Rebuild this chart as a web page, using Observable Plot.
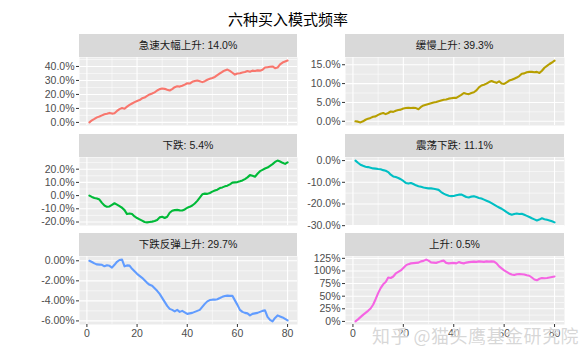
<!DOCTYPE html>
<html><head><meta charset="utf-8">
<script src="https://cdn.jsdelivr.net/npm/d3@7"></script>
<script src="https://cdn.jsdelivr.net/npm/@observablehq/plot@0.6"></script>
<style>
body{margin:0;background:#fff;}
#chart{position:relative;width:583px;height:359px;overflow:hidden;font-family:"Liberation Sans","Noto Sans CJK SC",sans-serif;}
.title{position:absolute;left:0;width:576px;top:8px;line-height:22px;text-align:center;font-size:15px;color:#000;font-family:"Noto Sans CJK SC",sans-serif;}
.strip{position:absolute;height:23px;line-height:23px;background:#D9D9D9;text-align:center;font-size:10.5px;color:#1A1A1A;font-family:"Liberation Sans","Noto Sans CJK SC",sans-serif;}
.panel{position:absolute;}
.wm{position:absolute;left:372px;top:324px;font-size:18px;line-height:22px;color:rgba(175,175,175,0.5);font-family:"Noto Sans CJK SC",sans-serif;text-shadow:0 0 1px #fff,0 0 2px #fff;white-space:nowrap;letter-spacing:0.5px;}
</style></head>
<body>
<div id="chart"></div>
<script>
const titleText = "六种买入模式频率";
const watermark = "知乎 @猫头鹰基金研究院";
const categories = ["急速大幅上升: 14.0%", "缓慢上升: 39.3%", "下跌: 5.4%", "震荡下跌: 11.1%", "下跌反弹上升: 29.7%", "上升: 0.5%"];
const colors = ["#F8766D", "#B79F00", "#00BA38", "#00BFC4", "#619CFF", "#F564E3"];
const days = d3.range(1, 81);

const s1 = [0.000,0.015,0.025,0.036,0.042,0.050,0.058,0.062,0.068,0.063,0.066,0.082,0.095,0.103,0.098,0.113,0.125,0.135,0.145,0.153,
0.160,0.172,0.178,0.190,0.200,0.207,0.215,0.228,0.238,0.242,0.240,0.233,0.228,0.238,0.252,0.258,0.256,0.262,0.270,0.280,
0.278,0.290,0.296,0.300,0.294,0.288,0.295,0.305,0.312,0.318,0.325,0.338,0.350,0.362,0.372,0.378,0.368,0.355,0.342,0.350,
0.352,0.357,0.360,0.368,0.362,0.370,0.368,0.372,0.370,0.376,0.392,0.395,0.398,0.400,0.388,0.392,0.415,0.428,0.435,0.442];
const s2 = [0.000,-0.001,-0.003,0.000,0.004,0.007,0.009,0.012,0.013,0.017,0.020,0.022,0.019,0.022,0.026,0.025,0.028,0.030,0.031,0.034,
0.035,0.036,0.035,0.036,0.035,0.032,0.038,0.042,0.044,0.046,0.048,0.050,0.051,0.053,0.055,0.057,0.058,0.060,0.061,0.062,
0.062,0.066,0.070,0.075,0.073,0.072,0.075,0.077,0.082,0.090,0.095,0.097,0.100,0.104,0.107,0.104,0.102,0.106,0.100,0.099,
0.103,0.108,0.110,0.113,0.116,0.120,0.126,0.127,0.130,0.131,0.131,0.130,0.131,0.128,0.134,0.142,0.147,0.152,0.156,0.161];
const s3 = [0.000,-0.010,-0.018,-0.022,-0.030,-0.055,-0.075,-0.085,-0.082,-0.070,-0.058,-0.068,-0.080,-0.092,-0.110,-0.140,-0.135,-0.140,-0.158,-0.170,
-0.180,-0.190,-0.200,-0.203,-0.200,-0.197,-0.193,-0.185,-0.165,-0.160,-0.170,-0.160,-0.130,-0.115,-0.110,-0.108,-0.112,-0.113,-0.105,-0.092,
-0.085,-0.075,-0.060,-0.040,-0.015,0.010,0.015,0.013,0.020,0.030,0.038,0.045,0.057,0.062,0.070,0.075,0.085,0.098,0.100,0.102,
0.108,0.115,0.125,0.138,0.155,0.150,0.143,0.165,0.185,0.195,0.205,0.212,0.225,0.238,0.255,0.265,0.258,0.248,0.240,0.252];
const s4 = [0.000,-0.010,-0.019,-0.024,-0.028,-0.030,-0.033,-0.036,-0.037,-0.039,-0.040,-0.044,-0.047,-0.053,-0.065,-0.073,-0.076,-0.080,-0.086,-0.094,
-0.103,-0.106,-0.103,-0.108,-0.114,-0.118,-0.121,-0.124,-0.126,-0.128,-0.128,-0.130,-0.132,-0.135,-0.145,-0.152,-0.158,-0.162,-0.164,-0.163,
-0.160,-0.157,-0.156,-0.162,-0.168,-0.170,-0.166,-0.164,-0.168,-0.172,-0.175,-0.180,-0.185,-0.190,-0.196,-0.203,-0.210,-0.216,-0.222,-0.230,
-0.238,-0.245,-0.250,-0.246,-0.244,-0.246,-0.245,-0.250,-0.255,-0.260,-0.266,-0.271,-0.276,-0.272,-0.266,-0.270,-0.273,-0.276,-0.280,-0.285];
const s5 = [0.0000,-0.0012,-0.0026,-0.0036,-0.0038,-0.0040,-0.0055,-0.0045,-0.0050,-0.0068,-0.0040,-0.0010,0.0008,0.0012,-0.0055,-0.0046,-0.0048,-0.0080,-0.0105,-0.0130,
-0.0150,-0.0170,-0.0195,-0.0220,-0.0240,-0.0250,-0.0275,-0.0300,-0.0330,-0.0370,-0.0410,-0.0450,-0.0480,-0.0490,-0.0505,-0.0490,-0.0510,-0.0500,-0.0515,-0.0530,
-0.0525,-0.0520,-0.0510,-0.0500,-0.0490,-0.0460,-0.0430,-0.0405,-0.0392,-0.0388,-0.0388,-0.0383,-0.0372,-0.0360,-0.0352,-0.0348,-0.0350,-0.0350,-0.0395,-0.0440,
-0.0490,-0.0510,-0.0520,-0.0525,-0.0545,-0.0530,-0.0525,-0.0520,-0.0510,-0.0500,-0.0495,-0.0560,-0.0590,-0.0605,-0.0570,-0.0545,-0.0555,-0.0565,-0.0580,-0.0595];
const s6 = [0.000,0.040,0.085,0.130,0.170,0.210,0.255,0.330,0.440,0.560,0.660,0.735,0.780,0.870,0.860,0.890,0.950,0.980,1.010,1.060,
1.110,1.135,1.150,1.155,1.160,1.165,1.190,1.200,1.225,1.205,1.170,1.165,1.160,1.175,1.195,1.205,1.160,1.150,1.155,1.160,
1.150,1.175,1.160,1.150,1.165,1.175,1.180,1.185,1.180,1.190,1.185,1.180,1.190,1.185,1.190,1.185,1.150,1.090,1.050,1.010,
0.980,0.950,0.930,0.920,0.935,0.940,0.935,0.930,0.915,0.905,0.870,0.830,0.815,0.845,0.860,0.855,0.860,0.870,0.880,0.890];
const series = [s1, s2, s3, s4, s5, s6];

const yTicks = [
  [0, 0.1, 0.2, 0.3, 0.4],
  [0, 0.05, 0.10, 0.15],
  [-0.2, -0.1, 0, 0.1, 0.2],
  [-0.3, -0.2, -0.1, 0],
  [-0.06, -0.04, -0.02, 0],
  [0, 0.25, 0.5, 0.75, 1.0, 1.25]
];
const yLabels = [
  ["0.0%", "10.0%", "20.0%", "30.0%", "40.0%"],
  ["0.0%", "5.0%", "10.0%", "15.0%"],
  ["-20.0%", "-10.0%", "0.0%", "10.0%", "20.0%"],
  ["-30.0%", "-20.0%", "-10.0%", "0.0%"],
  ["-6.00%", "-4.00%", "-2.00%", "0.00%"],
  ["0%", "25%", "50%", "75%", "100%", "125%"]
];
const xTicks = [0, 20, 40, 60, 80];
const xLabels = ["0", "20", "40", "60", "80"];

// layout
const colSvgLeft = [0, 300], colSvgWidth = [300, 283];
const colMarginLeft = [79, 45], colMarginRight = [3, 19];
const rowPanelTop = [57, 157, 256];
const panelH = 68, stripH = 23;

const root = document.getElementById("chart");
const t = document.createElement("div"); t.className = "title"; t.textContent = titleText; root.appendChild(t);

function expand([a, b]) { const r = b - a; return [a - 0.05 * r, b + 0.05 * r]; }
function minorOf(ticks, dom) {
  const step = ticks[1] - ticks[0];
  const ext = [ticks[0] - step, ...ticks, ticks[ticks.length - 1] + step];
  return d3.pairs(ext).map(([a, b]) => (a + b) / 2).filter(v => v >= dom[0] && v <= dom[1]);
}

const xDom = expand(d3.extent(days));
const xMinor = minorOf(xTicks, xDom);

categories.forEach((cat, k) => {
  const col = k % 2, row = Math.floor(k / 2);
  const bottom = row === 2;
  const mt = 8, mb = bottom ? 24 : 8;
  const vals = series[k];
  const data = days.map((d, i) => ({x: d, y: vals[i]}));
  const yDom = expand(d3.extent(vals));
  const yMinor = minorOf(yTicks[k], yDom);
  const ylab = new Map(yTicks[k].map((v, i) => [v, yLabels[k][i]]));
  const xlab = new Map(xTicks.map((v, i) => [v, xLabels[i]]));

  const strip = document.createElement("div");
  strip.className = "strip";
  const pl = colSvgLeft[col] + colMarginLeft[col];
  const pw = colSvgWidth[col] - colMarginLeft[col] - colMarginRight[col];
  strip.style.left = pl + "px"; strip.style.width = pw + "px";
  strip.style.top = (rowPanelTop[row] - stripH) + "px";
  strip.textContent = cat;
  root.appendChild(strip);

  const marks = [
    Plot.frame({fill: "#EBEBEB", stroke: null}),
    Plot.ruleY(yMinor, {stroke: "#fff", strokeWidth: 0.55}),
    Plot.ruleX(xMinor, {stroke: "#fff", strokeWidth: 0.55}),
    Plot.ruleY(yTicks[k], {stroke: "#fff", strokeWidth: 1.1}),
    Plot.ruleX(xTicks, {stroke: "#fff", strokeWidth: 1.1}),
    Plot.axisY(yTicks[k], {label: null, tickSize: 3, tickPadding: 2, tickFormat: d => ylab.get(d), stroke: "#333", fill: "#4D4D4D", fontSize: 10.5}),
    Plot.line(data, {x: "x", y: "y", stroke: colors[k], strokeWidth: 2.1, strokeLinejoin: "round", strokeLinecap: "round"})
  ];
  if (bottom) marks.splice(6, 0, Plot.axisX(xTicks, {label: null, tickSize: 3, tickPadding: 2, tickFormat: d => xlab.get(d), stroke: "#333", fill: "#4D4D4D", fontSize: 10.5}));

  const svg = Plot.plot({
    width: colSvgWidth[col],
    height: panelH + mt + mb,
    marginLeft: colMarginLeft[col], marginRight: colMarginRight[col],
    marginTop: mt, marginBottom: mb,
    style: {background: "transparent", overflow: "visible", fontFamily: '"Liberation Sans","Noto Sans CJK SC",sans-serif', fontSize: "10.5px", color: "#4D4D4D"},
    x: {domain: xDom, axis: bottom ? undefined : null},
    y: {domain: yDom},
    marks
  });
  svg.classList.add("panel");
  svg.style.position = "absolute";
  svg.style.left = colSvgLeft[col] + "px";
  svg.style.top = (rowPanelTop[row] - mt) + "px";
  root.appendChild(svg);
});

const wm = document.createElement("div"); wm.className = "wm"; wm.textContent = watermark; root.appendChild(wm);
</script>
</body></html>
